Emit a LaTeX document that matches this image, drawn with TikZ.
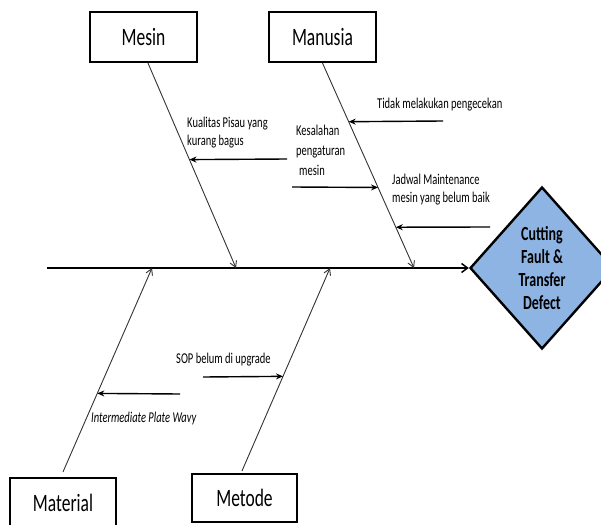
\documentclass[tikz,border=0pt]{standalone}
\usepackage{fontspec}
\setmainfont{Carlito}[FakeStretch=0.7]
\usetikzlibrary{shapes.geometric,arrows.meta,calc}
\definecolor{diamfill}{RGB}{142,180,227}
\begin{document}
\begin{tikzpicture}[x=1pt,y=-1pt,
 catbox/.style={draw,line width=2.2pt,minimum width=107pt,minimum height=50pt,inner sep=0pt,font=\fontsize{25}{30}\selectfont},
 bone/.style={draw=black!80,line width=0.9pt,-{Straight Barb[length=6pt,width=7pt]}},
 spine/.style={line width=1.5pt,-{Straight Barb[length=6pt,width=9pt]}},
 sub/.style={line width=1.4pt,-{Stealth[length=7pt,width=6pt]}},
 lbl/.style={anchor=base west,inner sep=0pt,font=\fontsize{15}{18}\selectfont},
]
\useasboundingbox (0,0) rectangle (601,524);

% category boxes
\node[catbox] (mesin) at (143.5,37) {Mesin};
\node[catbox] (manusia) at (322.5,37) {Manusia};
\node[catbox,minimum width=106pt] (material) at (63,503) {Material};
\node[catbox,minimum width=105pt,minimum height=48pt] (metode) at (244.5,498) {Metode};

% effect
\node[diamond,draw,line width=2.4pt,fill=diamfill,minimum width=144pt,minimum height=162pt,inner sep=0pt,align=center,font=\bfseries\fontsize{20}{23}\selectfont] (effect) at (542,268) {Cutting\\Fault \&\\Transfer\\Defect};

% spine
\coordinate (spinestart) at (47,268);
\draw[spine] (spinestart) -- (effect.west);

% bones
\coordinate (mestop) at ([xshift=4.5pt]mesin.south);
\coordinate (mantop) at (manusia.south);
\coordinate (mattop) at ([yshift=5pt]material.north);
\coordinate (mettop) at ([xshift=-2.5pt,yshift=2pt]metode.north);
\coordinate (mesinhit) at (236,268);
\coordinate (manhit) at (414,268);
\coordinate (mathit) at (152,268);
\coordinate (methit) at (330,268);
\draw[bone] (mestop) -- (mesinhit);
\draw[bone] (mantop) -- (manhit);
\draw[bone] (mattop) -- (mathit);
\draw[bone] (mettop) -- (methit);

% sub-cause arrows
\coordinate (tidaktail) at (443,121);
\coordinate (kestail) at (292,187);
\coordinate (jadtail) at (490,227);
\coordinate (kualtail) at (287,159);
\coordinate (intertail) at (180,394);
\coordinate (soptail) at (203,377);
\draw[sub] (tidaktail) -- ($(mantop)!0.286!(manhit)$);
\draw[sub] (kestail) -- ($(mantop)!0.607!(manhit)$);
\draw[sub] (jadtail) -- ($(mantop)!0.801!(manhit)$);
\draw[sub] (kualtail) -- ($(mestop)!0.471!(mesinhit)$);
\draw[sub] (intertail) -- ($(mattop)!0.385!(mathit)$);
\draw[sub] (soptail) -- ($(mettop)!0.466!(methit)$);

% labels
\node[lbl] (tidak) at (377,108) {Tidak melakukan pengecekan};
\node[lbl] (kual1) at (187,127) {Kualitas Pisau yang};
\node[lbl] (kual2) at (187,145) {kurang bagus};
\node[lbl] (kes1) at (296,135) {Kesalahan};
\node[lbl] (kes2) at (296,155) {pengaturan};
\node[lbl] (kes3) at (299,175) {mesin};
\node[lbl] (jad1) at (392,184) {Jadwal Maintenance};
\node[lbl] (jad2) at (392,202) {mesin yang belum baik};
\node[lbl] (sop) at (176,363) {SOP belum di upgrade};
\node[lbl,font=\itshape\fontsize{15}{18}\selectfont] (inter) at (91,422) {Intermediate Plate Wavy};
\end{tikzpicture}
\end{document}
